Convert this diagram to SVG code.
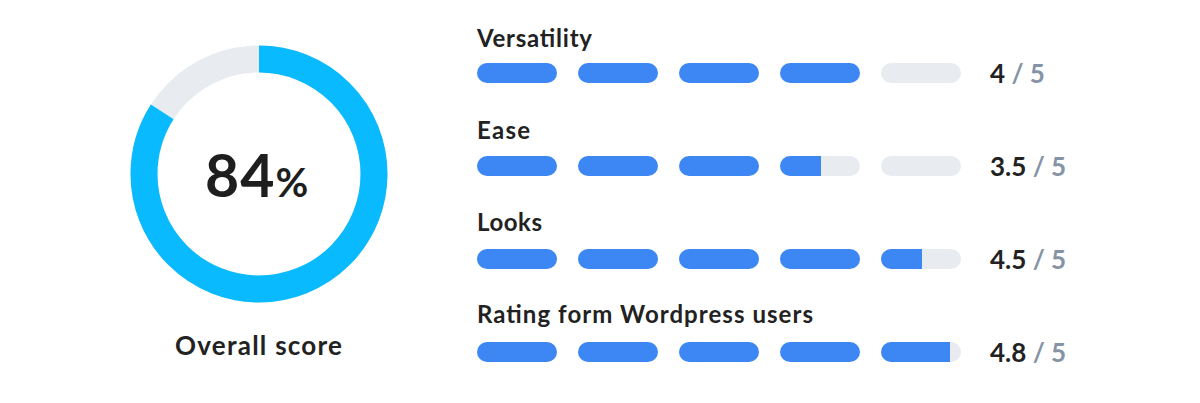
<svg xmlns="http://www.w3.org/2000/svg" width="1200" height="403" viewBox="0 0 1200 403">
<style>
.lbl{font-family:Lato,"Noto Sans",sans-serif;font-weight:700;font-size:24px;fill:#222}
.sc{font-family:Lato,"Noto Sans",sans-serif;font-weight:700;font-size:26px;fill:#222}
.den{fill:#8593A6}
.bg{fill:#E8EBEF}
.fg{fill:#3D87F5}
</style>
<defs>
<clipPath id="c1"><rect x="780" y="156" width="80" height="20" rx="10"/></clipPath>
<clipPath id="c2"><rect x="881" y="249" width="80" height="20" rx="10"/></clipPath>
<clipPath id="c3"><rect x="881" y="342" width="80" height="20" rx="10"/></clipPath>
</defs>
<rect width="1200" height="403" fill="#fff"/>
<g id="donut">
<circle cx="259" cy="174" r="115" fill="none" stroke="#E8EBEF" stroke-width="27"/>
<circle cx="259" cy="174" r="115" fill="none" stroke="#0ABAFF" stroke-width="27" stroke-dasharray="606.96 800" transform="rotate(-90 259 174)"/>
<text x="205" y="197" font-family="Lato,'Noto Sans',sans-serif" font-weight="700" fill="#1E1E1E"><tspan font-size="59" letter-spacing="1">84</tspan><tspan font-size="40">%</tspan></text>
<text x="175" y="355" font-family="Lato,'Noto Sans',sans-serif" font-weight="700" font-size="26" fill="#222" textLength="167" lengthAdjust="spacing">Overall score</text>
</g>
<g id="versatility">
<text class="lbl" x="477" y="47" textLength="115" lengthAdjust="spacing">Versatility</text>
<rect class="fg" x="477" y="63" width="80" height="20" rx="10"/>
<rect class="fg" x="578" y="63" width="80" height="20" rx="10"/>
<rect class="fg" x="679" y="63" width="80" height="20" rx="10"/>
<rect class="fg" x="780" y="63" width="80" height="20" rx="10"/>
<rect class="bg" x="881" y="63" width="80" height="20" rx="10"/>
<text class="sc" x="990" y="83">4 <tspan class="den">/ 5</tspan></text>
</g>
<g id="ease">
<text class="lbl" x="477" y="139" textLength="53" lengthAdjust="spacing">Ease</text>
<rect class="fg" x="477" y="156" width="80" height="20" rx="10"/>
<rect class="fg" x="578" y="156" width="80" height="20" rx="10"/>
<rect class="fg" x="679" y="156" width="80" height="20" rx="10"/>
<rect class="bg" x="780" y="156" width="80" height="20" rx="10"/>
<rect class="fg" x="780" y="156" width="41" height="20" clip-path="url(#c1)"/>
<rect class="bg" x="881" y="156" width="80" height="20" rx="10"/>
<text class="sc" x="990" y="176">3.5 <tspan class="den">/ 5</tspan></text>
</g>
<g id="looks">
<text class="lbl" x="477" y="231" textLength="65" lengthAdjust="spacing">Looks</text>
<rect class="fg" x="477" y="249" width="80" height="20" rx="10"/>
<rect class="fg" x="578" y="249" width="80" height="20" rx="10"/>
<rect class="fg" x="679" y="249" width="80" height="20" rx="10"/>
<rect class="fg" x="780" y="249" width="80" height="20" rx="10"/>
<rect class="bg" x="881" y="249" width="80" height="20" rx="10"/>
<rect class="fg" x="881" y="249" width="41" height="20" clip-path="url(#c2)"/>
<text class="sc" x="990" y="269">4.5 <tspan class="den">/ 5</tspan></text>
</g>
<g id="rating">
<text class="lbl" x="477" y="323" textLength="336" lengthAdjust="spacing">Rating form Wordpress users</text>
<rect class="fg" x="477" y="342" width="80" height="20" rx="10"/>
<rect class="fg" x="578" y="342" width="80" height="20" rx="10"/>
<rect class="fg" x="679" y="342" width="80" height="20" rx="10"/>
<rect class="fg" x="780" y="342" width="80" height="20" rx="10"/>
<rect class="bg" x="881" y="342" width="80" height="20" rx="10"/>
<rect class="fg" x="881" y="342" width="69" height="20" clip-path="url(#c3)"/>
<text class="sc" x="990" y="362">4.8 <tspan class="den">/ 5</tspan></text>
</g>
<g id="connectors"/>
</svg>
